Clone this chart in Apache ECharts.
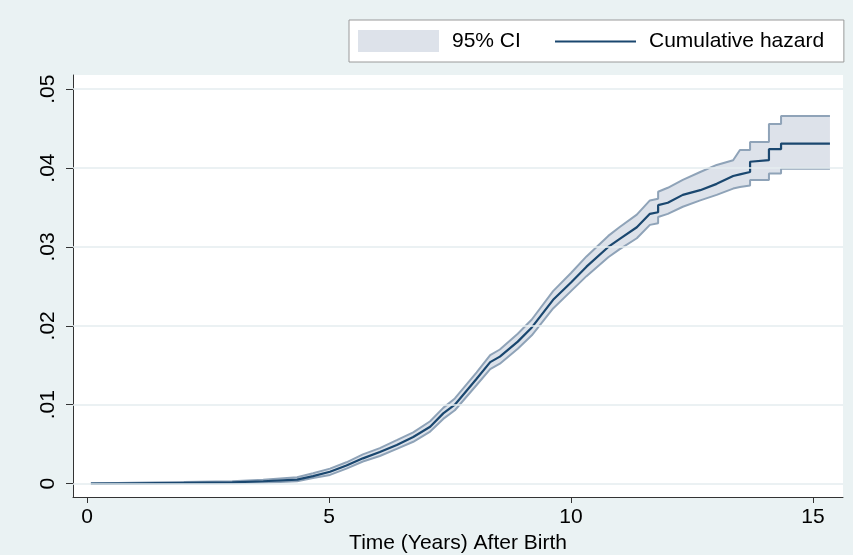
<!DOCTYPE html>
<html>
<head>
<meta charset="utf-8">
<script src="https://cdn.jsdelivr.net/npm/echarts@6/dist/echarts.min.js"></script>
<style>
html,body{margin:0;padding:0;background:#eaf2f3;}
#chart{width:853px;height:555px;}
</style>
</head>
<body>
<div id="chart"></div>
<script>
// Time (years after birth) at which readings were taken (repeated values mark vertical steps)
var years = [0.08, 0.92, 2.0, 3.0, 3.64, 4.34, 4.67, 5.02, 5.36, 5.7, 6.05, 6.4, 6.74, 7.09, 7.36, 7.6, 8.05, 8.33, 8.53, 8.9, 9.19, 9.63, 10.0, 10.32, 10.77, 11.0, 11.36, 11.63, 11.80, 11.80, 12.0, 12.31, 12.67, 13.01, 13.35, 13.49, 13.70, 13.70, 14.09, 14.09, 14.34, 14.34, 15.35];
// Cumulative hazard
var hazard = [0, 0.00003, 0.00008, 0.00015, 0.0003, 0.0005, 0.00095, 0.0015, 0.0023, 0.0032, 0.0040, 0.0049, 0.0059, 0.0072, 0.0089, 0.0100, 0.0133, 0.0154, 0.0161, 0.0180, 0.0198, 0.0233, 0.0255, 0.0275, 0.0300, 0.0310, 0.0325, 0.0342, 0.0344, 0.0353, 0.0356, 0.0366, 0.0372, 0.0380, 0.0390, 0.0392, 0.0395, 0.0408, 0.0410, 0.0424, 0.0424, 0.0431, 0.0431];
// 95% CI lower bound
var ciLow = [0, 0, 0.00002, 0.00005, 0.0001, 0.0003, 0.0007, 0.0011, 0.0019, 0.0028, 0.0035, 0.0044, 0.0053, 0.0066, 0.0082, 0.0093, 0.0125, 0.0145, 0.0152, 0.0171, 0.0188, 0.0222, 0.0244, 0.0263, 0.0287, 0.0297, 0.0311, 0.0328, 0.0330, 0.0338, 0.0342, 0.0351, 0.0359, 0.0366, 0.0374, 0.0376, 0.0378, 0.0385, 0.0385, 0.0393, 0.0393, 0.0399, 0.0399];
// 95% CI upper bound
var ciHigh = [0, 0.0001, 0.0002, 0.0003, 0.0005, 0.0008, 0.0013, 0.0019, 0.0027, 0.0037, 0.0045, 0.0055, 0.0065, 0.0079, 0.0096, 0.0108, 0.0141, 0.0163, 0.0170, 0.0190, 0.0208, 0.0244, 0.0267, 0.0288, 0.0314, 0.0325, 0.0341, 0.0359, 0.0361, 0.0370, 0.0375, 0.0385, 0.0395, 0.0404, 0.0410, 0.0423, 0.0423, 0.0433, 0.0433, 0.0456, 0.0456, 0.0466, 0.0466];

var xTicks = [0, 5, 10, 15];
var xTickLabels = ['0', '5', '10', '15'];
var yTicks = [0, 0.01, 0.02, 0.03, 0.04, 0.05];
var yTickLabels = ['0', '.01', '.02', '.03', '.04', '.05'];

var FONT = "'Liberation Sans', Arial, sans-serif";
var NAVY = '#1a476f';
var CI_LINE = '#8fa3b8';
var CI_FILL = '#dde2ea';

function pairs(ys) { return years.map(function (t, i) { return [t, ys[i]]; }); }
function labelFor(ticks, labels) {
  return function (v) {
    for (var i = 0; i < ticks.length; i++) { if (Math.abs(ticks[i] - v) < 1e-9) return labels[i]; }
    return '';
  };
}

var chart = echarts.init(document.getElementById('chart'), null, {renderer: 'canvas'});
chart.setOption({
  backgroundColor: '#eaf2f3',
  animation: false,
  textStyle: {fontFamily: FONT},
  grid: {left: 73, right: 10, top: 75, bottom: 58, show: true, backgroundColor: '#ffffff', borderWidth: 0,
         containLabel: false, outerBoundsMode: 'none'},
  legend: [{
    left: 349, top: 20,
    data: [{name: '95% CI', icon: 'rect', itemStyle: {color: CI_FILL}}],
    itemWidth: 81, itemHeight: 22,
    padding: [10, 323, 10, 9],
    backgroundColor: '#ffffff', borderColor: '#9a9a9a', borderWidth: 1, borderRadius: 0,
    selectedMode: false,
    textStyle: {fontSize: 21, color: '#000', fontFamily: FONT, padding: [0, 0, 0, 8]}
  }, {
    left: 555, top: 21,
    data: [{name: 'Cumulative hazard', icon: 'rect', itemStyle: {color: NAVY}}],
    itemWidth: 81, itemHeight: 2,
    padding: [10, 0, 10, 0],
    selectedMode: false,
    textStyle: {fontSize: 21, color: '#000', fontFamily: FONT, padding: [0, 0, 0, 8]}
  }],
  xAxis: {
    type: 'value', min: -0.29, max: 15.62,
    name: 'Time (Years) After Birth', nameLocation: 'middle', nameGap: 32,
    nameTextStyle: {fontSize: 21, color: '#000', fontFamily: FONT},
    axisLine: {show: true, onZero: false, lineStyle: {color: '#333', width: 1}},
    axisTick: {show: true, customValues: xTicks, length: 6, lineStyle: {color: '#333', width: 1}},
    axisLabel: {customValues: xTicks, formatter: labelFor(xTicks, xTickLabels), fontSize: 21, color: '#000', margin: 10, fontFamily: FONT},
    splitLine: {show: false}
  },
  yAxis: {
    type: 'value', min: -0.0017, max: 0.0518,
    axisLine: {show: true, onZero: false, lineStyle: {color: '#333', width: 1}},
    axisTick: {show: true, customValues: yTicks, length: 7, lineStyle: {color: '#333', width: 1}},
    axisLabel: {customValues: yTicks, formatter: labelFor(yTicks, yTickLabels), rotate: 90, fontSize: 21, color: '#000', margin: 14, fontFamily: FONT},
    splitLine: {show: false}
  },
  series: [{
    name: 'grid', type: 'line', data: [], z: 1, silent: true,
    markLine: {
      silent: true, symbol: 'none', animation: false,
      label: {show: false},
      lineStyle: {color: '#e4edef', width: 1.5, type: 'solid'},
      emphasis: {disabled: true},
      data: yTicks.map(function (v) { return {yAxis: v}; })
    }
  }, {
    name: '95% CI', type: 'custom', z: 2, silent: true,
    itemStyle: {color: CI_FILL},
    data: [[years[0], ciLow[0]]],
    renderItem: function (params, api) {
      var pts = [];
      for (var i = 0; i < years.length; i++) pts.push(api.coord([years[i], ciHigh[i]]));
      for (var j = years.length - 1; j >= 0; j--) pts.push(api.coord([years[j], ciLow[j]]));
      return {type: 'polygon', shape: {points: pts}, style: {fill: CI_FILL}};
    }
  }, {
    name: 'lower', type: 'line', z: 3, symbol: 'none', silent: true,
    data: pairs(ciLow), lineStyle: {color: CI_LINE, width: 2}
  }, {
    name: 'upper', type: 'line', z: 3, symbol: 'none', silent: true,
    data: pairs(ciHigh), lineStyle: {color: CI_LINE, width: 2}
  }, {
    name: 'Cumulative hazard', type: 'line', z: 4, symbol: 'none', silent: true,
    color: NAVY,
    data: pairs(hazard), lineStyle: {color: NAVY, width: 2.2}
  }]
});
</script>
</body>
</html>
